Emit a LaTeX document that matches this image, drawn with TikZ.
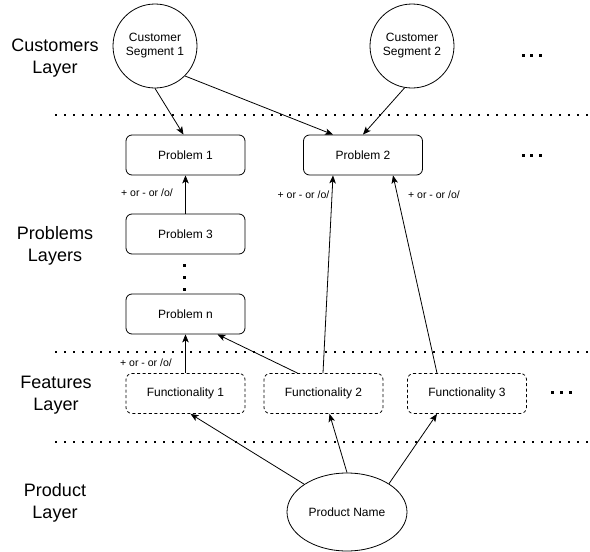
\documentclass[tikz,border=0pt]{standalone}
\usepackage{fontspec}
\setmainfont{Liberation Sans}
\usetikzlibrary{shapes.geometric,arrows.meta,calc}
\tikzset{
  layer/.style={align=center,font=\fontsize{18}{22}\selectfont},
  circ/.style={circle,draw,line width=0.8pt,minimum size=84pt,inner sep=0pt,align=center,font=\fontsize{12}{14}\selectfont},
  probbox/.style={rectangle,draw,rounded corners=6pt,line width=0.8pt,minimum width=119pt,minimum height=40pt,inner sep=0pt,font=\fontsize{12}{14}\selectfont},
  funcbox/.style={probbox,dash pattern=on 3pt off 2.5pt},
  prodell/.style={ellipse,draw,line width=0.8pt,minimum width=120pt,minimum height=78pt,inner sep=0pt,font=\fontsize{12}{14}\selectfont},
  conn/.style={line width=0.8pt,-{Stealth[length=8pt,width=6.5pt,inset=2pt]}},
  sep/.style={line width=1.6pt,dash pattern=on 1.6pt off 7.4pt},
  lbl/.style={font=\fontsize{10.5}{12}\selectfont,inner sep=0pt},
  sqdot/.style={rectangle,fill=black,minimum size=3pt,inner sep=0pt},
}
\begin{document}
\begin{tikzpicture}[x=1pt,y=-1pt]
\useasboundingbox (0,0) rectangle (590,552);
% layer labels
\node[layer] (lc) at (55,58) {Customers\\Layer};
\node[layer] (lp) at (55,246) {Problems\\Layers};
\node[layer] (lf) at (56,395) {Features\\Layer};
\node[layer] (lr) at (55,503) {Product\\Layer};
% separators
\coordinate (s1a) at (55,115); \coordinate (s1b) at (590,115);
\coordinate (s2a) at (55,352); \coordinate (s2b) at (590,352);
\coordinate (s3a) at (55,442); \coordinate (s3b) at (590,442);
\draw[sep] (s1a) -- (s1b);
\draw[sep] (s2a) -- (s2b);
\draw[sep] (s3a) -- (s3b);
% ellipsis marks
\foreach \i in {0,1,2} {
  \node[sqdot] (ma\i) at (523+8.5*\i,55) {};
  \node[sqdot] (mb\i) at (523+8.5*\i,155) {};
  \node[sqdot] (mc\i) at (552+9*\i,392) {};
  \node[sqdot] (vd\i) at (184.5,265+12*\i) {};
}
% customers
\node[circ] (cs1) at (155,46) {Customer\\Segment 1};
\node[circ] (cs2) at (412,46) {Customer\\Segment 2};
% problems
\node[probbox] (p1) at (185.5,155) {Problem 1};
\node[probbox] (p2) at (363,155) {Problem 2};
\node[probbox] (p3) at (185.5,234) {Problem 3};
\node[probbox] (pn) at (185.5,314) {Problem n};
% features
\node[funcbox] (f1) at (185.5,393.5) {Functionality 1};
\node[funcbox] (f2) at (323.5,393.5) {Functionality 2};
\node[funcbox] (f3) at (467,393.5) {Functionality 3};
% product
\node[prodell] (prod) at (347,512) {Product Name};
% connectors
\draw[conn] (cs1.south) -- ([xshift=-2pt]p1.north);
\draw[conn] (cs1.-45) -- ([xshift=-30pt]p2.north);
\draw[conn] (cs2.-100) -- (p2.north);
\draw[conn] (p3.north) -- (p1.south);
\node[lbl] (l1) at (147,193) {+ or - or /o/};
\draw[conn] ([xshift=-0.5pt]f2.north) -- ([xshift=-30pt]p2.south);
\draw[conn] ([xshift=-30pt]f3.north) -- ([xshift=30pt]p2.south);
\node[lbl] (l2) at (303.5,195) {+ or - or /o/};
\node[lbl] (l3) at (434,195) {+ or - or /o/};
\draw[conn] (f1.north) -- (pn.south);
\node[lbl] (l4) at (146,363) {+ or - or /o/};
\draw[conn] ([xshift=-26pt]f2.north) -- ([xshift=32pt]pn.south);
\draw[conn] (prod.147) -- ([xshift=5pt]f1.south);
\draw[conn] (prod.north) -- ([xshift=6pt]f2.south);
\draw[conn] (prod.34) -- ([xshift=-30pt]f3.south);
\end{tikzpicture}
\end{document}
